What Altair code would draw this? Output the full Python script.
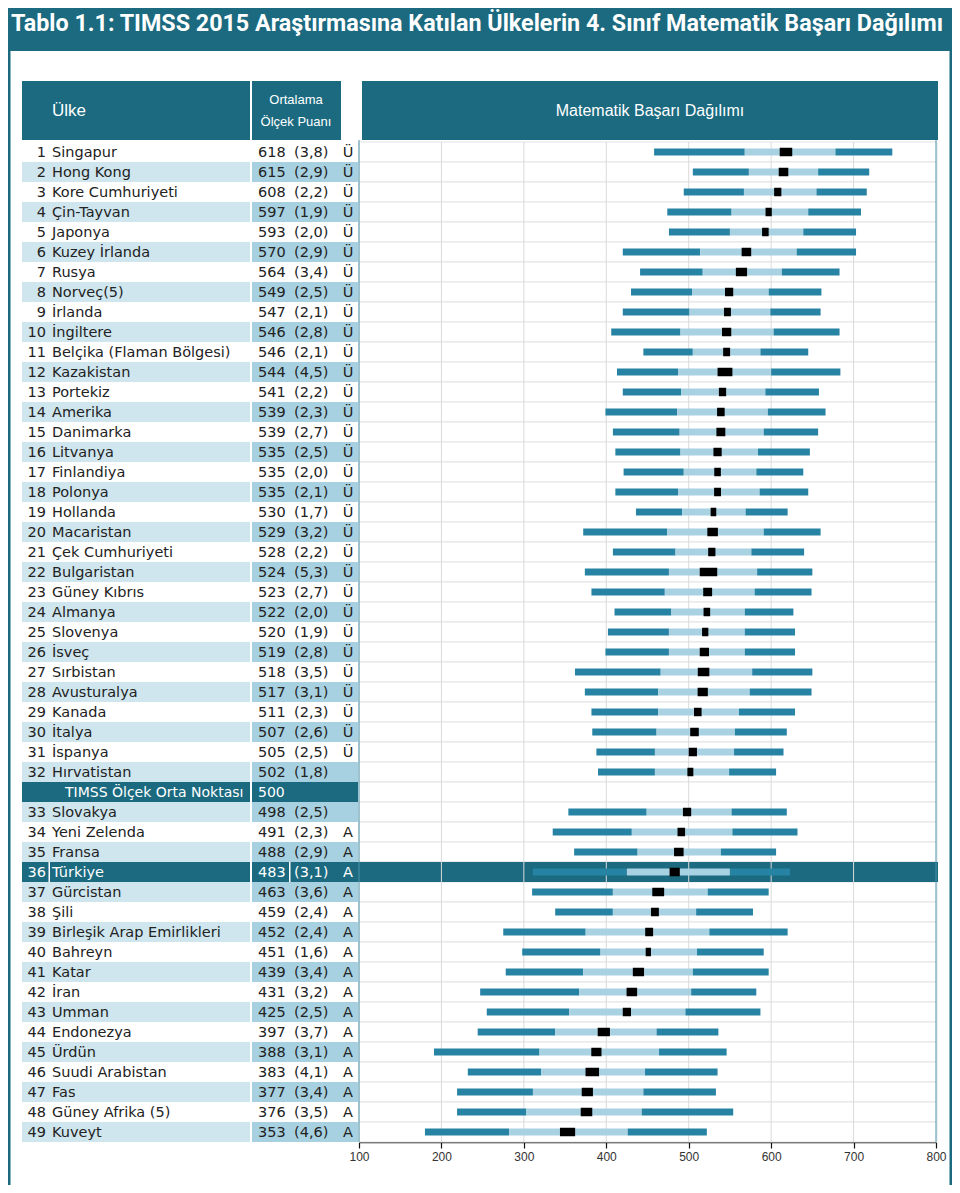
import altair as alt
import pandas as pd

# ---------------- data ----------------
names = ["Singapur", "Hong Kong", "Kore Cumhuriyeti", "Çin-Tayvan", "Japonya",
         "Kuzey İrlanda", "Rusya", "Norveç(5)", "İrlanda", "İngiltere",
         "Belçika (Flaman Bölgesi)", "Kazakistan", "Portekiz", "Amerika", "Danimarka",
         "Litvanya", "Finlandiya", "Polonya", "Hollanda", "Macaristan",
         "Çek Cumhuriyeti", "Bulgaristan", "Güney Kıbrıs", "Almanya", "Slovenya",
         "İsveç", "Sırbistan", "Avusturalya", "Kanada", "İtalya",
         "İspanya", "Hırvatistan", "Slovakya", "Yeni Zelenda", "Fransa",
         "Türkiye", "Gürcistan", "Şili", "Birleşik Arap Emirlikleri", "Bahreyn",
         "Katar", "İran", "Umman", "Endonezya", "Ürdün",
         "Suudi Arabistan", "Fas", "Güney Afrika (5)", "Kuveyt"]
means = [618, 615, 608, 597, 593, 570, 564, 549, 547, 546, 546, 544, 541, 539, 539,
         535, 535, 535, 530, 529, 528, 524, 523, 522, 520, 519, 518, 517, 511, 507,
         505, 502, 498, 491, 488, 483, 463, 459, 452, 451, 439, 431, 425, 397, 388,
         383, 377, 376, 353]
ses = [3.8, 2.9, 2.2, 1.9, 2.0, 2.9, 3.4, 2.5, 2.1, 2.8, 2.1, 4.5, 2.2, 2.3, 2.7,
       2.5, 2.0, 2.1, 1.7, 3.2, 2.2, 5.3, 2.7, 2.0, 1.9, 2.8, 3.5, 3.1, 2.3, 2.6,
       2.5, 1.8, 2.5, 2.3, 2.9, 3.1, 3.6, 2.4, 2.4, 1.6, 3.4, 3.2, 2.5, 3.7, 3.1,
       4.1, 3.4, 3.5, 4.6]
sig = ["Ü"] * 31 + ["", ""] + ["A"] * 16
p5 = [458, 505, 494, 474, 476, 420, 441, 430, 420, 406, 445, 413, 420, 399, 408,
      411, 421, 411, 436, 372, 408, 374, 382, 410, 402, 399, 362, 374, 382, 383,
      388, 390, 354, 335, 361, 311, 310, 338, 275, 298, 278, 247, 255, 244, 191,
      232, 219, 219, 180]
p25 = [568, 573, 567, 552, 550, 514, 517, 504, 501, 490, 505, 487, 491, 486, 489,
       490, 494, 487, 492, 474, 484, 476, 471, 479, 476, 476, 466, 463, 463, 461,
       459, 459, 449, 431, 438, 425, 408, 408, 375, 393, 372, 367, 355, 338, 319,
       321, 311, 303, 282]
p75 = [678, 657, 655, 645, 639, 631, 613, 597, 599, 603, 587, 600, 593, 596, 591,
       584, 582, 586, 569, 591, 576, 583, 580, 568, 568, 568, 577, 574, 561, 556,
       555, 549, 552, 553, 539, 550, 523, 509, 525, 510, 505, 503, 496, 461, 464,
       447, 445, 443, 426]
p95 = [747, 719, 716, 709, 703, 703, 683, 661, 660, 683, 645, 684, 658, 666, 657,
       647, 639, 645, 620, 660, 640, 650, 649, 627, 629, 629, 650, 649, 629, 619,
       615, 606, 619, 632, 606, 623, 597, 578, 620, 591, 597, 582, 587, 536, 546,
       535, 533, 554, 522]
tick_values = [100, 200, 300, 400, 500, 600, 700, 800]
grid_values = [200, 300, 400, 500, 600, 700]
mid_label = "TIMSS Ölçek Orta Noktası"
mid_value = "500"
mid_after_rank = 32
highlight = "Türkiye"
title_text = "Tablo 1.1: TIMSS 2015 Araştırmasına Katılan Ülkelerin 4. Sınıf Matematik Başarı Dağılımı"
hdr_country = "Ülke"
hdr_score = ["Ortalama", "Ölçek Puanı"]
hdr_dist = "Matematik Başarı Dağılımı"

# ---------------- styles ----------------
TEAL = "#1b6a80"
BAR_DARK = "#2783a4"
BAR_LIGHT = "#a8d2e2"
ROW_NAME = "#cfe6ef"
ROW_SCORE = "#a7d1e1"
TXT = "#222222"
GRID = "#dadada"
FONT = "DejaVu Sans"
HFONT = "Liberation Sans"

ranks = list(range(1, len(names) + 1))
disp = [r - 1 if r <= mid_after_rank else r for r in ranks]
df = pd.DataFrame({
    "rank": ranks, "disp": disp, "name": names, "avg": means, "se": ses, "sig": sig,
    "p5": p5, "p25": p25, "p75": p75, "p95": p95,
})
df["lo"] = df["avg"] - 2 * df["se"]
df["hi"] = df["avg"] + 2 * df["se"]
df["rank_txt"] = df["rank"].astype(str)
df["avg_txt"] = df["avg"].astype(str)
df["se_txt"] = df["se"].map(lambda v: "(" + f"{v:.1f}".replace(".", ",") + ")")
df["hl"] = df["name"] == highlight
df["odd"] = df["disp"] % 2 == 1

n_rows = len(names) + 1
all_rows = pd.DataFrame({"disp": list(range(n_rows))})
mid_df = pd.DataFrame({"disp": [mid_after_rank], "label": [mid_label], "val": [mid_value]})
grid_df = pd.DataFrame({"g": grid_values})
edge_df = pd.DataFrame({"g": [tick_values[0], tick_values[-1]]})
one = pd.DataFrame({"k": [0]})

Y = alt.Y("disp:O", axis=None,
          scale=alt.Scale(domain=list(range(n_rows)), range=[134, 1134],
                          paddingInner=0, paddingOuter=0))
XS = alt.Scale(domain=[100, 800], range=[351, 928], nice=False, zero=False)
XAX = alt.Axis(values=tick_values, grid=False, domainColor="#111", domainWidth=1.5,
               tickColor="#111", tickSize=6, tickWidth=1.2, labelFont=HFONT,
               labelFontSize=12, labelColor="#333", labelPadding=3, format="d",
               labelFlush=False)


def X(f):
    return alt.X(f"{f}:Q", scale=XS, axis=XAX, title=None)


base = alt.Chart(df)

def vrect(data, x0, x1, y0, y1, color):
    return alt.Chart(data).mark_rect(color=color).encode(
        x=alt.value(x0), x2=alt.value(x1), y=alt.value(y0), y2=alt.value(y1))

# title & frame
title_band = vrect(one, 0, 944, 0, 43, TEAL)
title = alt.Chart(pd.DataFrame({"t": [title_text]})).mark_text(
    x=3, y=16, align="left", baseline="middle", font="Roboto",
    fontWeight="bold", fontSize=23.3, color="white").encode(text="t:N")
frame_l = vrect(one, 0, 2.5, 43, 1177, TEAL)
frame_r = vrect(one, 941.5, 944, 43, 1177, TEAL)

# header
h1 = vrect(one, 14, 242, 73, 132, TEAL)
h2 = vrect(one, 244, 333, 73, 132, TEAL)
h3 = vrect(one, 354, 930, 73, 132, TEAL)
ht1 = alt.Chart(pd.DataFrame({"t": [hdr_country]})).mark_text(
    x=44, y=103, align="left", baseline="middle", font=HFONT, fontSize=17,
    color="white").encode(text="t:N")
ht2 = alt.Chart(pd.DataFrame({"t": [hdr_score[0]]})).mark_text(
    x=288, y=92, align="center", baseline="middle", font=HFONT, fontSize=13,
    color="white").encode(text="t:N")
ht3 = alt.Chart(pd.DataFrame({"t": [hdr_score[1]]})).mark_text(
    x=288, y=114, align="center", baseline="middle", font=HFONT, fontSize=13,
    color="white").encode(text="t:N")
ht4 = alt.Chart(pd.DataFrame({"t": [hdr_dist]})).mark_text(
    x=642, y=103, align="center", baseline="middle", font=HFONT, fontSize=16,
    color="white").encode(text="t:N")

# table row backgrounds
odd_rows = base.transform_filter("datum.odd && !datum.hl")
bg_name = odd_rows.mark_rect(color=ROW_NAME).encode(x=alt.value(14), x2=alt.value(242), y=Y)
bg_score = odd_rows.mark_rect(color=ROW_SCORE).encode(x=alt.value(244), x2=alt.value(350), y=Y)
mid_bg1 = alt.Chart(mid_df).mark_rect(color=TEAL).encode(x=alt.value(14), x2=alt.value(242), y=Y)
mid_bg2 = alt.Chart(mid_df).mark_rect(color=TEAL).encode(x=alt.value(244), x2=alt.value(350), y=Y)

# chart rows
row_cells = alt.Chart(all_rows).mark_rect(fill="white", stroke="#e3e3e3", strokeWidth=1).encode(
    x=alt.value(351), x2=alt.value(929), y=Y)
hl_band = base.transform_filter("datum.hl").mark_rect(color=TEAL).encode(
    x=alt.value(14), x2=alt.value(930), y=Y)
hl_sep1 = base.transform_filter("datum.hl").mark_rect(color="white").encode(
    x=alt.value(40.5), x2=alt.value(42), y=Y)
hl_sep2 = base.transform_filter("datum.hl").mark_rect(color="white").encode(
    x=alt.value(281), x2=alt.value(282.5), y=Y)
hl_sep3 = base.transform_filter("datum.hl").mark_rect(color="white").encode(
    x=alt.value(242), x2=alt.value(244), y=Y)

grid = alt.Chart(grid_df).mark_rule(color=GRID, strokeWidth=1).encode(
    x=X("g"), y=alt.value(134), y2=alt.value(1134))
edges = alt.Chart(edge_df).mark_rule(color="#4b93ab", strokeWidth=1).encode(
    x=X("g"), y=alt.value(132), y2=alt.value(1134))

# bars
seg1 = base.mark_bar(size=7, color=BAR_DARK).encode(x=X("p5"), x2="p25:Q", y=Y)
seg2 = base.mark_bar(size=7, color=BAR_LIGHT).encode(x=X("p25"), x2="p75:Q", y=Y)
seg3 = base.mark_bar(size=7, color=BAR_DARK).encode(x=X("p75"), x2="p95:Q", y=Y)
ci = base.mark_bar(size=8.5, color="black").encode(x=X("lo"), x2="hi:Q", y=Y)

# texts
tcol = alt.condition("datum.hl", alt.value("white"), alt.value(TXT))
txt_rank = base.mark_text(align="right", baseline="middle", font=FONT, fontSize=14.5, dy=1).encode(
    x=alt.value(38), y=Y, text="rank_txt:N", color=tcol)
txt_name = base.mark_text(align="left", baseline="middle", font=FONT, fontSize=14.5, dy=1).encode(
    x=alt.value(44), y=Y, text="name:N", color=tcol)
txt_avg = base.mark_text(align="left", baseline="middle", font=FONT, fontSize=14.5, dy=1).encode(
    x=alt.value(250), y=Y, text="avg_txt:N", color=tcol)
txt_se = base.mark_text(align="left", baseline="middle", font=FONT, fontSize=14.5, dy=1).encode(
    x=alt.value(286), y=Y, text="se_txt:N", color=tcol)
txt_sig = base.mark_text(align="center", baseline="middle", font=FONT, fontSize=14.5, dy=1).encode(
    x=alt.value(340), y=Y, text="sig:N", color=tcol)
mid_t1 = alt.Chart(mid_df).mark_text(align="left", baseline="middle", font=FONT, fontSize=14,
                                     color="white", dy=1).encode(x=alt.value(57), y=Y, text="label:N")
mid_t2 = alt.Chart(mid_df).mark_text(align="left", baseline="middle", font=FONT, fontSize=14,
                                     color="white", dy=1).encode(x=alt.value(250), y=Y, text="val:N")

chart = alt.layer(
    title_band, frame_l, frame_r, h1, h2, h3,
    bg_name, bg_score, mid_bg1, mid_bg2, row_cells, hl_band,
    grid, edges, seg1, seg2, seg3, ci,
    hl_sep1, hl_sep2, hl_sep3,
    txt_rank, txt_name, txt_avg, txt_se, txt_sig, mid_t1, mid_t2,
    title, ht1, ht2, ht3, ht4,
).properties(
    width=944, height=1134,
    padding={"left": 0, "right": 0, "top": 0, "bottom": 43},
    autosize=alt.AutoSizeParams(type="none"),
).configure_view(stroke=None)

chart.save("out.html", embed_options={"renderer": "svg", "actions": False})
